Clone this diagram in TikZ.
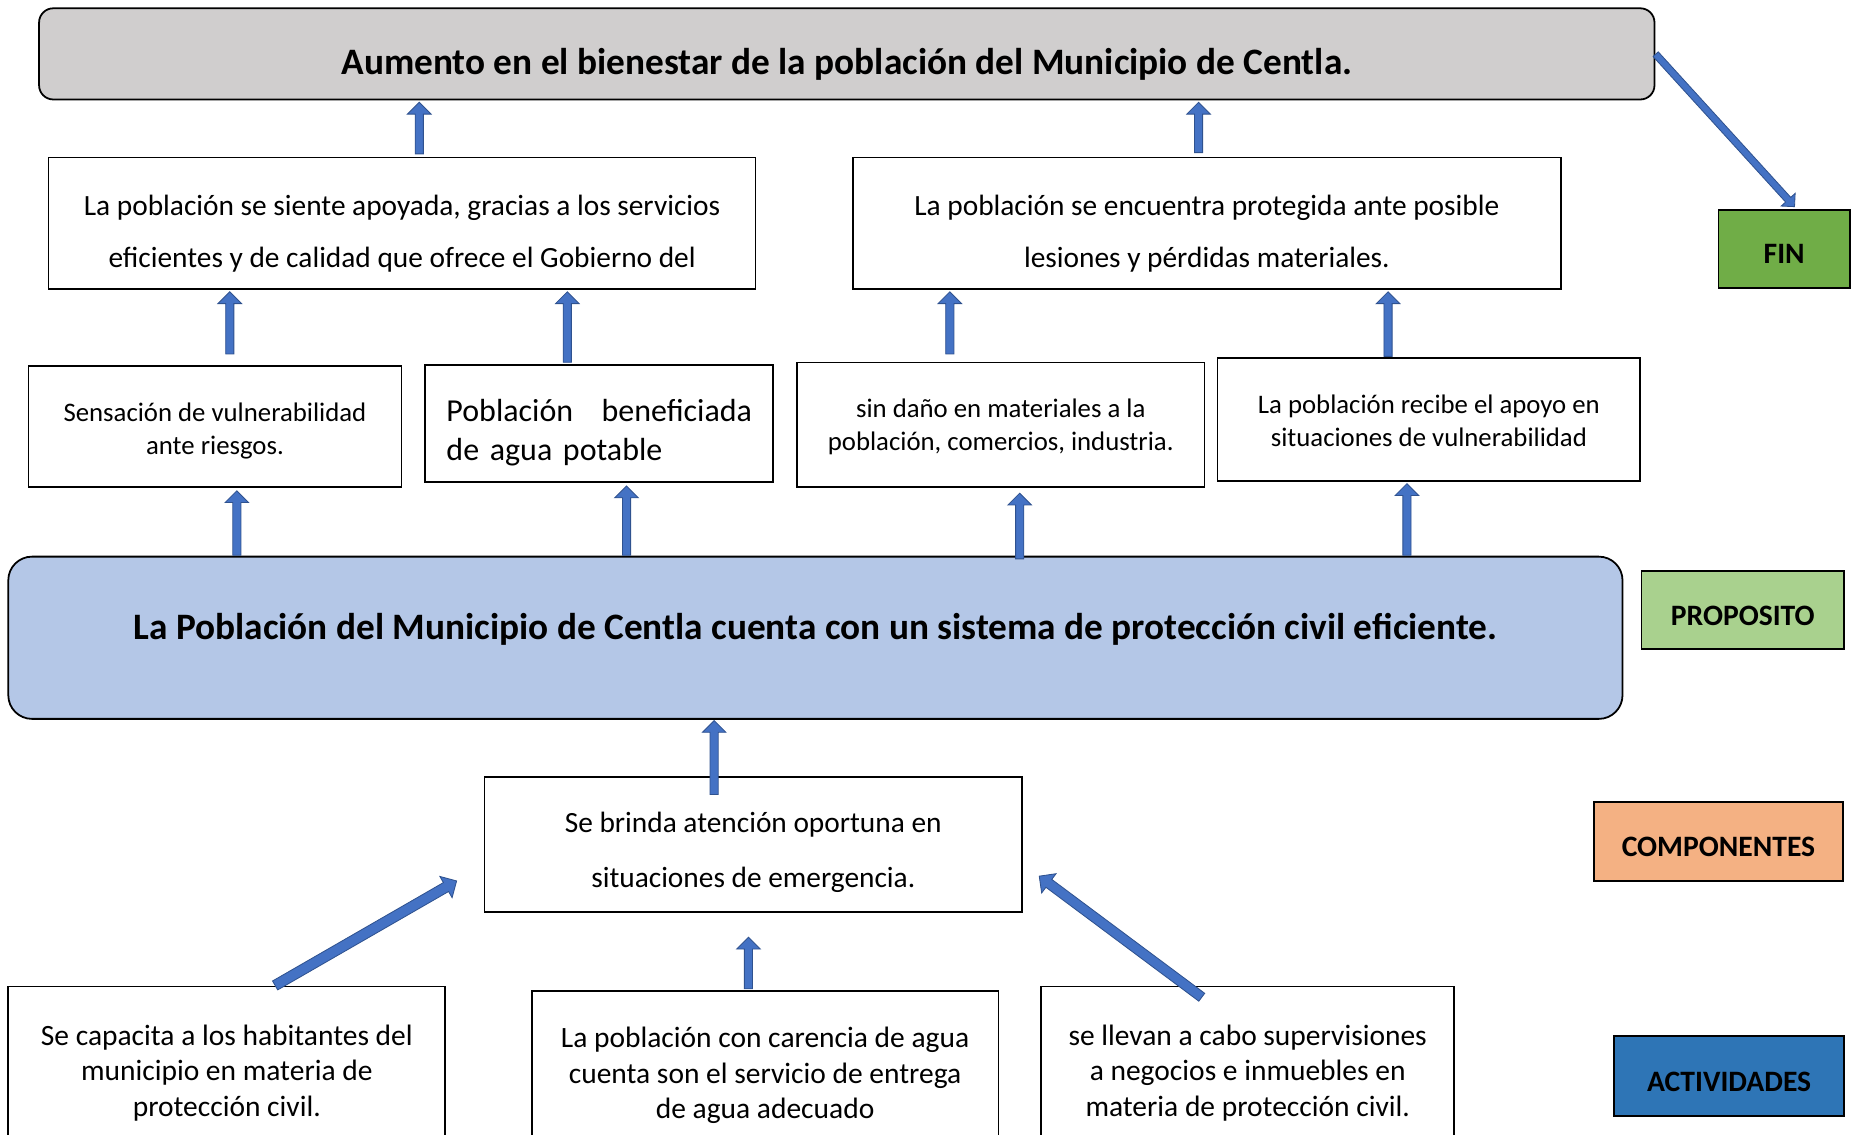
\documentclass[tikz,border=0pt]{standalone}
\usepackage{fontspec}
\setmainfont{Carlito}
\usetikzlibrary{calc,shapes.arrows}
\definecolor{titlegray}{HTML}{D0CECE}
\definecolor{propblue}{HTML}{B4C7E7}
\definecolor{fingreen}{HTML}{70AD47}
\definecolor{propgreen}{HTML}{A9D18E}
\definecolor{comporange}{HTML}{F4B183}
\definecolor{actblue}{HTML}{2E75B6}
\definecolor{arrowblue}{HTML}{4472C4}
\definecolor{arrowedge}{HTML}{2F528F}
\tikzset{
  box/.style={draw=black, line width=1.5pt, fill=white, inner sep=0pt, align=center},
  txt/.style={inner sep=0pt, align=center},
  barrow/.style={single arrow, draw=arrowedge, fill=arrowblue, line width=0.7pt,
    inner sep=3.1pt, single arrow head extend=6.5pt, single arrow tip angle=90,
    single arrow head indent=0pt, minimum width=0pt},
  tagbox/.style={draw=black, line width=1.5pt, inner sep=0pt,
    text height=25.5pt, text depth=0pt, font=\fontsize{25}{29}\selectfont\bfseries},
  afont/.style={font=\fontsize{24.8}{44}\selectfont},
  bfont/.style={font=\fontsize{22.6}{28}\selectfont},
  cfont/.style={font=\fontsize{24.9}{30}\selectfont},
}
% vertical block arrow: [gap]{tail}{target anchor}
\newcommand\varrow[3][2]{%
  \path let \p1=(#2), \p2=(#3), \n1={\y2-\y1-#1} in
    node[barrow, anchor=tail, rotate=90, minimum height=\n1] at (\p1) {};}
% free block arrow: [opts]{tail}{tip}
\newcommand\darrow[3][]{%
  \path let \p1=(#2), \p2=(#3), \n1={atan2(\y2-\y1,\x2-\x1)},
    \n2={veclen(\x2-\x1,\y2-\y1)} in
    node[barrow, #1, anchor=tail, rotate=\n1, minimum height=\n2] at (\p1) {};}
\begin{document}
\begin{tikzpicture}[x=1pt,y=-1pt]
\useasboundingbox (0,0) rectangle (1568,958);
\clip (0,0) rectangle (1568,958);

% FIN level
\node[box, fill=titlegray, rounded corners=12pt, minimum width=1364pt, minimum height=77pt,
  text height=35pt, text depth=0pt, font=\fontsize{31.5}{36}\selectfont\bfseries]
  (T) at (715,45.5) {Aumento en el bienestar de la población del Municipio de Centla.};

\node[box, minimum width=597pt, minimum height=111pt] (A1) at (339.5,188.5) {};
\node[txt, afont] (A1t) at ($(A1)+(0,9)$)
  {La población se siente apoyada, gracias a los servicios\\eficientes y de calidad que ofrece el Gobierno del};
\node[box, minimum width=598pt, minimum height=111pt] (A2) at (1019,188.5) {};
\node[txt, afont] (A2t) at ($(A2)+(0,8.5)$)
  {La población se encuentra protegida ante posible\\lesiones y pérdidas materiales.};

\node[box, minimum width=315pt, minimum height=102pt] (B1) at (181.5,360) {};
\node[txt, bfont] (B1t) at ($(B1)+(0,4)$) {Sensación de vulnerabilidad\\ante riesgos.};
\node[box, minimum width=294pt, minimum height=99pt] (B2) at (506,357.5) {};
\node[txt, font=\fontsize{27}{33}\selectfont, text width=258pt, align=left] (B2t) at ($(B2)+(0,8)$)
  {\makebox[258pt][s]{Población\hfill beneficiada}\\\mbox{de agua potable}};
\node[box, minimum width=344pt, minimum height=105pt] (B3) at (845,358.5) {};
\node[txt, bfont] (B3t) at ($(B3)+(0,2)$) {sin daño en materiales a la\\población, comercios, industria.};
\node[box, minimum width=357pt, minimum height=104pt] (B4) at (1206.5,354) {};
\node[txt, bfont] (B4t) at ($(B4)+(0,1.5)$) {La población recibe el apoyo en\\situaciones de vulnerabilidad};

% PROPOSITO level
\node[box, fill=propblue, rounded corners=20pt, minimum width=1363pt, minimum height=137pt,
  text height=3pt, text depth=0pt, font=\fontsize{31.5}{36}\selectfont\bfseries]
  (P) at (688.5,538.5) {La Población del Municipio de Centla cuenta con un sistema de protección civil eficiente.};

% COMPONENTES level
\node[box, minimum width=454pt, minimum height=114pt] (Comp) at (636,713) {};
\node[txt, font=\fontsize{24.8}{46}\selectfont] (Compt) at ($(Comp)+(0,6.5)$)
  {Se brinda atención oportuna en\\situaciones de emergencia.};

% ACTIVIDADES level
\node[box, minimum width=369pt, minimum height=142pt] (C1) at (191.5,904) {};
\node[txt, cfont] (C1t) at ($(C1)+(0,2)$)
  {Se capacita a los habitantes del\\municipio en materia de\\protección civil.};
\node[box, minimum width=394pt, minimum height=138pt] (C2) at (646,906) {};
\node[txt, cfont] (C2t) at ($(C2)+(0,2)$)
  {La población con carencia de agua\\cuenta son el servicio de entrega\\de agua adecuado};
\node[box, minimum width=349pt, minimum height=142pt] (C3) at (1053.5,904) {};
\node[txt, cfont] (C3t) at ($(C3)+(0,2)$)
  {se llevan a cabo supervisiones\\a negocios e inmuebles en\\materia de protección civil.};

% tags
\node[tagbox, fill=fingreen, minimum width=111pt, minimum height=66pt] (FIN) at (1506.5,210) {FIN};
\node[tagbox, fill=propgreen, minimum width=171pt, minimum height=66pt] (PROP) at (1471.5,515) {PROPOSITO};
\node[tagbox, fill=comporange, minimum width=210pt, minimum height=67pt] (COMPT) at (1451,710.5) {COMPONENTES};
\node[tagbox, fill=actblue, minimum width=194pt, minimum height=67pt] (ACT) at (1460,908.5) {ACTIVIDADES};

% arrows
\varrow{$(A1.north)+(14.5,-2)$}{T.south}
\varrow{$(A2.north)+(-7,-3)$}{T.south}
\darrow[inner sep=2.6pt, single arrow head extend=5pt]{T.east}{$(FIN.north)+(8.5,-2)$}

\varrow{$(B1.north)+(12.5,-9)$}{A1.south}
\varrow{$(B2.north)+(-27,-1)$}{A1.south}
\varrow{$(B3.north)+(-43,-6)$}{A2.south}
\varrow{$(B4.north)+(-34.5,0)$}{A2.south}

\varrow[3]{$(P.north)+(-488.5,0)$}{B1.south}
\varrow[3]{$(P.north)+(-159.5,0)$}{B2.south}
\varrow[5]{$(P.north)+(172.5,3)$}{B3.south}
\varrow[2]{$(P.north)+(499.5,0)$}{B4.south}

\varrow[1]{$(Comp.north)+(-33,16)$}{P.south}

\darrow[inner sep=4pt, single arrow head extend=6pt]{$(C1.north)+(40.5,0)$}{$(Comp.west)+(-23,31)$}
\varrow[21]{$(C2.north)+(-14,-1)$}{Comp.south}
\darrow[inner sep=3.8pt, single arrow head extend=6pt]{$(C3.north)+(-38.5,10)$}{$(Comp.east)+(14,27)$}
\end{tikzpicture}
\end{document}
